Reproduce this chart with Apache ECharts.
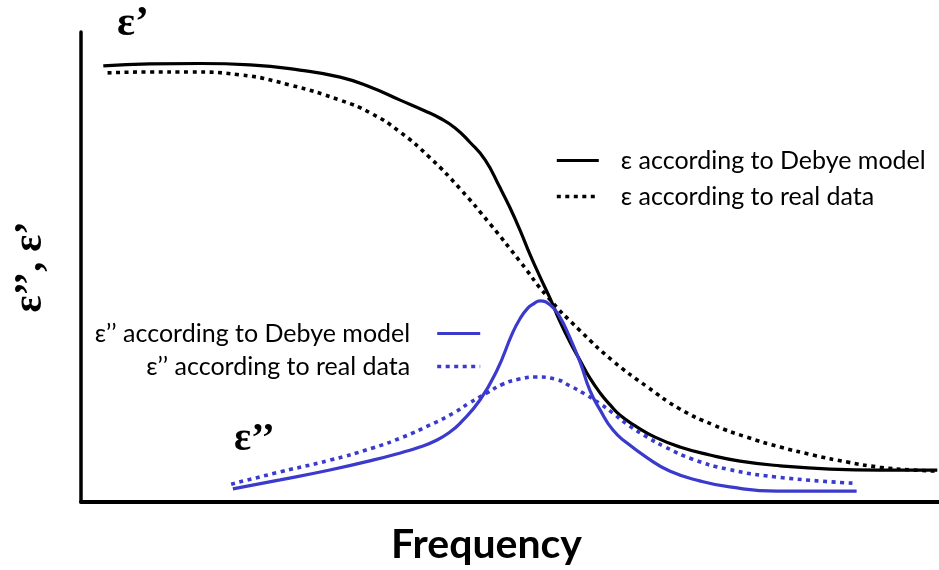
<!DOCTYPE html>
<html>
<head>
<meta charset="utf-8">
<title>Dielectric relaxation: Debye model vs real data</title>
<script src="https://cdn.jsdelivr.net/npm/echarts@6/dist/echarts.min.js"></script>
<style>
  html, body { margin: 0; padding: 0; background: #ffffff; }
  #chart { width: 939px; height: 570px; }
</style>
</head>
<body>
<div id="chart"></div>
<script>
// Relative units: x = log-frequency position (0..100), y = permittivity (0..100)

// ε' according to the Debye model
const epsRealDebye = [
  [2.6, 92.8], [8.0, 93.2], [13.9, 93.3], [19.7, 93.0], [25.5, 91.9],
  [30.2, 90.4], [33.7, 88.3], [37.2, 85.5], [40.1, 83.2], [41.8, 81.7],
  [43.6, 79.6], [45.3, 76.6], [47.1, 72.8], [48.8, 67.0], [50.0, 62.6],
  [51.2, 57.7], [52.3, 52.8], [53.5, 47.9], [54.7, 43.2], [55.8, 38.5],
  [57.0, 34.0], [58.2, 30.0], [59.3, 26.4], [60.5, 23.2], [61.7, 20.6],
  [62.8, 18.5], [64.6, 16.2], [66.9, 13.8], [69.8, 11.7], [73.3, 10.0],
  [76.8, 8.7], [81.5, 7.7], [87.3, 7.0], [93.1, 6.8], [99.8, 6.8]
];

// ε' according to measured data
const epsRealMeasured = [
  [3.1, 91.3], [8.0, 91.5], [12.7, 91.5], [18.5, 90.9], [24.4, 88.7],
  [30.2, 85.5], [33.7, 82.8], [37.2, 78.7], [40.7, 73.2], [44.2, 66.6],
  [47.7, 59.1], [51.2, 51.1], [54.3, 43.8], [58.2, 36.4], [62.0, 30.0],
  [66.0, 24.5], [69.8, 19.8], [73.7, 16.4], [77.6, 13.8], [81.5, 11.7],
  [85.3, 10.0], [89.3, 8.5], [93.1, 7.4], [97.0, 6.8], [99.8, 6.6]
];

// ε'' according to the Debye model
const epsLossDebye = [
  [17.7, 2.8], [23.2, 4.7], [29.0, 6.8], [34.0, 8.9], [37.5, 10.6],
  [39.5, 11.7], [41.5, 13.2], [43.0, 14.9], [44.2, 16.8], [46.5, 21.7],
  [48.5, 28.1], [50.3, 36.0], [51.2, 39.1], [52.0, 41.1], [52.7, 42.1],
  [53.5, 42.8], [54.7, 41.9], [55.8, 39.4], [57.0, 34.9], [58.2, 29.6],
  [59.3, 23.8], [60.5, 19.6], [62.0, 15.3], [63.6, 12.6], [66.0, 9.4],
  [68.6, 6.6], [72.1, 4.5], [75.6, 3.2], [81.1, 2.3], [90.4, 2.3]
];

// ε'' according to measured data
const epsLossMeasured = [
  [17.5, 3.8], [23.2, 6.4], [29.0, 8.9], [34.0, 11.5], [37.5, 13.8],
  [40.7, 16.4], [43.4, 18.9], [45.3, 21.1], [47.3, 23.2], [49.2, 25.1],
  [51.2, 26.2], [53.1, 26.6], [55.2, 26.2], [57.0, 24.7], [58.7, 23.0],
  [60.5, 20.9], [62.0, 18.9], [63.6, 16.6], [66.0, 13.8], [68.1, 11.7],
  [71.3, 9.1], [75.3, 7.0], [81.1, 5.3], [90.0, 4.0]
];

const seriesNames = [
  'ε according to Debye model',
  'ε according to real data',
  'ε’’ according to Debye model',
  'ε’’ according to real data'
];

const BLACK = '#000000';
const BLUE = '#3a3acc';
const DOTS = [4, 4.5];
const SOLID_W = 3.2;
const DOT_W = 3.6;

const chart = echarts.init(document.getElementById('chart'), null, { renderer: 'canvas' });

function curve(name, data, color, dotted) {
  return {
    name: name,
    type: 'line',
    data: data,
    smooth: 0.5,
    symbol: 'none',
    silent: true,
    animation: false,
    lineStyle: {
      color: color,
      width: dotted ? DOT_W : SOLID_W,
      type: dotted ? DOTS : 'solid',
      cap: 'butt'
    },
    itemStyle: { color: color }
  };
}

// legend entries show only the line sample, no marker
function legendEntry(name, dotted) {
  return {
    name: name,
    itemStyle: { opacity: 0 },
    lineStyle: { width: dotted ? DOT_W : SOLID_W }
  };
}

const legendText = {
  fontFamily: 'Lato',
  fontSize: 25,
  lineHeight: 24,
  color: BLACK
};

chart.setOption({
  backgroundColor: '#ffffff',
  animation: false,
  grid: { left: 81, right: 0, top: 32, bottom: 68, containLabel: false },
  xAxis: {
    type: 'value',
    min: 0,
    max: 100,
    name: 'Frequency',
    nameLocation: 'middle',
    nameGap: 22,
    nameTextStyle: {
      fontFamily: 'Lato',
      fontWeight: 'bold',
      fontSize: 41,
      color: BLACK,
      padding: [0, 47, 0, 0]
    },
    axisLine: { show: true, lineStyle: { color: BLACK, width: 4 } },
    axisTick: { show: false },
    axisLabel: { show: false },
    splitLine: { show: false }
  },
  yAxis: {
    type: 'value',
    min: 0,
    max: 100,
    name: 'ε’’, ε’',
    nameLocation: 'middle',
    nameRotate: 90,
    nameGap: 30,
    nameTextStyle: {
      fontFamily: 'Liberation Serif',
      fontWeight: 'bold',
      fontSize: 40,
      color: BLACK
    },
    axisLine: { show: true, lineStyle: { color: BLACK, width: 3.5 } },
    axisTick: { show: false },
    axisLabel: { show: false },
    splitLine: { show: false }
  },
  legend: [
    {
      orient: 'vertical',
      left: 550,
      top: 143,
      itemWidth: 42,
      itemHeight: 14,
      itemGap: 11,
      align: 'left',
      selectedMode: false,
      textStyle: Object.assign({ padding: [0, 0, 0, 17] }, legendText),
      data: [legendEntry(seriesNames[0], false), legendEntry(seriesNames[1], true)]
    },
    {
      orient: 'vertical',
      right: 452,
      top: 316,
      itemWidth: 43,
      itemHeight: 14,
      itemGap: 8,
      align: 'right',
      selectedMode: false,
      textStyle: Object.assign({ padding: [0, 22, 0, 0] }, legendText),
      data: [legendEntry(seriesNames[2], false), legendEntry(seriesNames[3], true)]
    }
  ],
  graphic: [
    {
      type: 'text',
      left: 117,
      top: 3,
      style: {
        text: 'ε’',
        font: 'bold 42px "Liberation Serif"',
        fill: BLACK
      }
    },
    {
      type: 'text',
      left: 234,
      top: 420,
      style: {
        text: 'ε’’',
        font: 'bold 40px "Liberation Serif"',
        fill: BLACK
      }
    }
  ],
  series: [
    curve(seriesNames[0], epsRealDebye, BLACK, false),
    curve(seriesNames[1], epsRealMeasured, BLACK, true),
    curve(seriesNames[2], epsLossDebye, BLUE, false),
    curve(seriesNames[3], epsLossMeasured, BLUE, true)
  ]
});
</script>
</body>
</html>
